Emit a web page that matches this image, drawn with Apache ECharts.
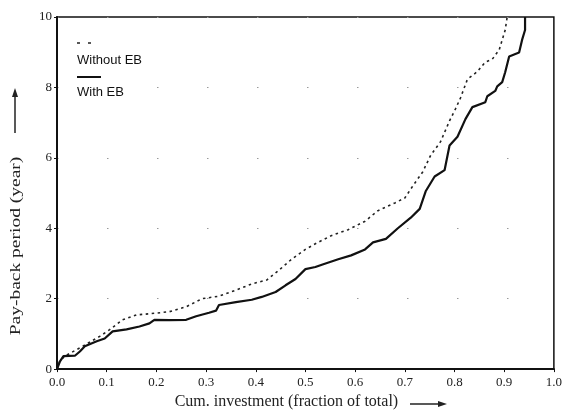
<!DOCTYPE html>
<html>
<head>
<meta charset="utf-8">
<script src="https://cdn.jsdelivr.net/npm/echarts@6/dist/echarts.min.js"></script>
<style>
html,body{margin:0;padding:0;background:#fff;}
#c{width:565px;height:415px;}
</style>
</head>
<body>
<div id="c"></div>
<script>
// Data
const xTicks = [0.0,0.1,0.2,0.3,0.4,0.5,0.6,0.7,0.8,0.9,1.0];
const yTicks = [0,2,4,6,8,10];
const seriesNames = ["Without EB", "With EB"];
const xTitle = 'Cum. investment (fraction of total)';
const yTitle = 'Pay-back period (year)';

const withEB = [[0,0],[0.006,0.22],[0.013,0.37],[0.036,0.38],[0.046,0.5],[0.056,0.65],[0.08,0.79],[0.096,0.87],[0.112,1.07],[0.14,1.13],[0.166,1.21],[0.186,1.3],[0.196,1.4],[0.226,1.39],[0.26,1.4],[0.28,1.5],[0.306,1.6],[0.32,1.66],[0.326,1.82],[0.36,1.9],[0.392,1.97],[0.412,2.05],[0.44,2.19],[0.46,2.38],[0.48,2.56],[0.5,2.84],[0.52,2.9],[0.536,2.98],[0.566,3.12],[0.592,3.23],[0.62,3.4],[0.636,3.6],[0.662,3.7],[0.686,4.0],[0.712,4.3],[0.73,4.55],[0.742,5.05],[0.76,5.47],[0.78,5.65],[0.79,6.35],[0.806,6.6],[0.822,7.1],[0.836,7.44],[0.862,7.58],[0.866,7.75],[0.882,7.9],[0.886,8.03],[0.896,8.15],[0.902,8.43],[0.91,8.88],[0.93,8.99],[0.936,9.35],[0.942,9.63],[0.942,10]];

const withoutEB = [[0,0],[0.006,0.25],[0.02,0.4],[0.052,0.65],[0.086,0.93],[0.106,1.12],[0.132,1.4],[0.16,1.54],[0.186,1.57],[0.226,1.63],[0.26,1.77],[0.292,2.0],[0.326,2.07],[0.36,2.24],[0.392,2.42],[0.422,2.53],[0.446,2.8],[0.472,3.12],[0.5,3.4],[0.52,3.56],[0.552,3.79],[0.586,3.96],[0.62,4.2],[0.646,4.5],[0.68,4.72],[0.7,4.86],[0.716,5.2],[0.736,5.6],[0.752,6.07],[0.772,6.46],[0.79,7.05],[0.802,7.39],[0.812,7.7],[0.826,8.23],[0.846,8.45],[0.862,8.72],[0.876,8.8],[0.89,9.07],[0.896,9.35],[0.902,9.63],[0.906,10]];

const chart = echarts.init(document.getElementById('c'), null, {renderer:'canvas'});
const serif = '"Liberation Serif", "Times New Roman", serif';
const sans = '"Liberation Sans", Arial, sans-serif';

chart.setOption({
  animation:false,
  backgroundColor:'#fff',
  grid:{left:57,right:8,top:17,bottom:40,show:true,borderColor:'#111',borderWidth:1.5},
  xAxis:{
    type:'value',min:0,max:1,interval:0.1,
    axisLine:{show:true,lineStyle:{color:'#111',width:2}},
    axisTick:{show:true,inside:false,length:3,lineStyle:{color:'#111'}},
    axisLabel:{color:'#222',fontFamily:serif,fontSize:13,margin:7,
      formatter:v=>v.toFixed(1)},
    splitLine:{show:false},
    name:xTitle,
    nameLocation:'middle',nameGap:24,
    nameTextStyle:{color:'#222',fontFamily:serif,fontSize:16,padding:[0,38,0,0]}
  },
  yAxis:{
    type:'value',min:0,max:10,interval:2,
    axisLine:{show:true,lineStyle:{color:'#111',width:2}},
    axisTick:{show:true,inside:false,length:3,lineStyle:{color:'#111'}},
    axisLabel:{color:'#222',fontFamily:serif,fontSize:13,margin:5},
    splitLine:{show:true,lineStyle:{color:'#999',width:1,type:[1.5,48.5],dashOffset:-50}}
  },
  series:[
    {name:seriesNames[0],type:'line',data:withoutEB,showSymbol:false,
      lineStyle:{color:'#222',width:1.6,type:[2.5,3.5]}},
    {name:seriesNames[1],type:'line',data:withEB,showSymbol:false,
      lineStyle:{color:'#111',width:2.2}}
  ],
  graphic:[
    // y title
    {type:'text',x:16,y:246,rotation:Math.PI/2,scaleX:1.3,
      style:{text:yTitle,font:'15px '+serif,fill:'#222',align:'center',verticalAlign:'middle'}},
    // legend
    {type:'line',shape:{x1:77,y1:43,x2:91,y2:43},style:{stroke:'#222',lineWidth:1.5,lineDash:[3,8]}},
    {type:'text',left:77,top:54,style:{text:seriesNames[0],font:'13px '+sans,fill:'#111'}},
    {type:'line',shape:{x1:77,y1:77,x2:101,y2:77},style:{stroke:'#111',lineWidth:2}},
    {type:'text',left:77,top:86,style:{text:seriesNames[1],font:'13px '+sans,fill:'#111'}},
    // x arrow
    {type:'line',shape:{x1:410,y1:404,x2:440,y2:404},style:{stroke:'#222',lineWidth:1.5}},
    {type:'polygon',shape:{points:[[438,401],[447,404],[438,407]]},style:{fill:'#222'}},
    // y arrow
    {type:'line',shape:{x1:15,y1:133,x2:15,y2:95},style:{stroke:'#222',lineWidth:1.5}},
    {type:'polygon',shape:{points:[[12,97],[15,88],[18,97]]},style:{fill:'#222'}}
  ]
});
</script>
</body>
</html>
